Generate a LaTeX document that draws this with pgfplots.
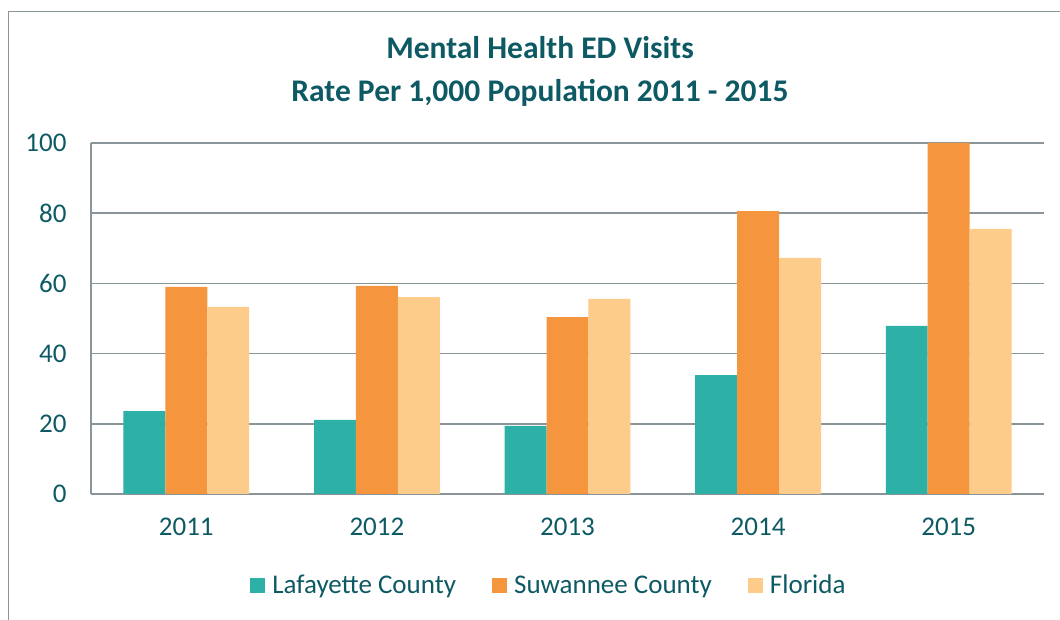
\documentclass[border=0pt]{standalone}
\usepackage{pgfplots}
\pgfplotsset{compat=1.18}
\usepackage{fontspec}
\setmainfont{Carlito}
\definecolor{teal1}{HTML}{2DB0A6}
\definecolor{orange1}{HTML}{F5963E}
\definecolor{peach}{HTML}{FDCB8A}
\definecolor{txt}{HTML}{0E5A64}
\definecolor{gridc}{HTML}{8A9599}
\begin{document}
\begin{tikzpicture}
\path[use as bounding box] (0pt,0pt) rectangle (1060pt,620pt);
\draw[gridc, line width=1.5pt] (8.5pt,-20pt) -- (8.5pt,608.5pt) -- (1080pt,608.5pt);
\node[txt, font=\fontsize{31.5}{43}\selectfont\bfseries, align=center] at (540pt,548.5pt) {Mental Health ED Visits\\Rate Per 1,000 Population 2011 - 2015};
\begin{axis}[
  at={(91pt,126pt)}, anchor=south west,
  scale only axis, width=953pt, height=351pt,
  ybar=0pt, bar width=0.22,
  xmin=-0.5, xmax=4.5, ymin=0, ymax=100,
  xtick={0,1,2,3,4}, xticklabels={2011,2012,2013,2014,2015},
  ytick={0,20,40,60,80,100},
  axis x line*=bottom, axis y line*=left,
  axis line style={gridc, line width=1.5pt},
  ymajorgrids, grid style={gridc, line width=1.5pt},
  major tick length=0pt,
  /pgf/number format/assume math mode=true,
  ticklabel style={font=\fontsize{27}{32}\selectfont, text=txt},
  yticklabel style={xshift=-21pt},
  xticklabel style={yshift=-20pt},
  legend style={at={(0.4805,-0.2593)}, anchor=center, draw=none, legend columns=3,
    font=\fontsize{27}{32}\selectfont, text=txt,
    nodes={inner sep=2pt},
    /tikz/every odd column/.append style={column sep=5pt},
    /tikz/every even column/.append style={column sep=34pt}},
]
\addplot[fill=teal1, draw=none, legend image code/.code={\fill[teal1] (0pt,-7.5pt) rectangle (15pt,7.5pt);}] coordinates {(0,23.6) (1,21.1) (2,19.4) (3,33.9) (4,47.9)};
\addplot[fill=orange1, draw=none, legend image code/.code={\fill[orange1] (0pt,-7.5pt) rectangle (15pt,7.5pt);}] coordinates {(0,59.0) (1,59.3) (2,50.4) (3,80.6) (4,100)};
\addplot[fill=peach, draw=none, legend image code/.code={\fill[peach] (0pt,-7.5pt) rectangle (15pt,7.5pt);}] coordinates {(0,53.3) (1,56.1) (2,55.6) (3,67.3) (4,75.5)};
\legend{Lafayette County, Suwannee County, Florida}
\end{axis}
\end{tikzpicture}
\end{document}
